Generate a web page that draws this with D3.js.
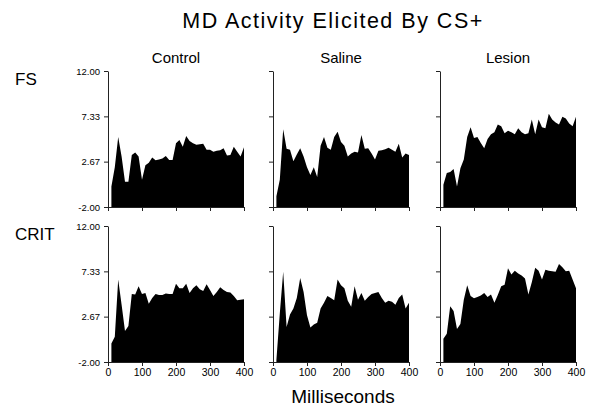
<!DOCTYPE html>
<html>
<head>
<meta charset="utf-8">
<script src="https://cdn.jsdelivr.net/npm/d3@7"></script>
<style>
  body { margin: 0; background: #fff; }
  svg { font-family: "Liberation Sans", Arial, sans-serif; }
</style>
</head>
<body>
<svg width="591" height="407"></svg>
<script>
const svg = d3.select("svg");

const groups = ["Control", "Saline", "Lesion"];
const rows = ["FS", "CRIT"];
const times = [10, 20, 30, 40, 50, 60, 70, 80, 90, 100,
               110, 120, 130, 140, 150, 160, 170, 180, 190, 200,
               210, 220, 230, 240, 250, 260, 270, 280, 290, 300,
               310, 320, 330, 340, 350, 360, 370, 380, 390, 400];
const yTicks = [-2, 2.67, 7.33, 12];
const xTicks = [0, 100, 200, 300, 400];

const fsControl = [0.1, 2.1, 5.2, 3.2, 0.6, 0.6, 3.35, 3.6, 3.2, 0.8,
                   2.3, 2.55, 3.1, 2.8, 2.9, 3.0, 3.25, 2.85, 2.85, 4.55,
                   4.9, 4.2, 5.3, 4.8, 4.55, 4.4, 4.45, 4.5, 3.9, 3.9,
                   3.7, 3.8, 3.85, 4.05, 3.3, 3.35, 4.2, 3.7, 3.2, 4.15];
const fsSaline = [-0.9, 0.8, 6.0, 4.0, 3.9, 2.7, 3.4, 4.05, 3.2, 2.1,
                  1.3, 2.1, 1.1, 4.3, 5.2, 4.1, 3.9, 5.2, 5.75, 4.7,
                  4.3, 3.2, 3.5, 3.7, 3.6, 5.4, 4.0, 4.05, 3.5, 2.9,
                  3.8, 3.85, 3.95, 4.1, 3.9, 3.7, 4.5, 3.1, 3.5, 3.35];
const fsLesion = [0.3, 1.5, 1.6, 1.9, 0.1, 2.0, 2.9, 5.2, 6.2, 5.1,
                  5.2, 4.6, 4.05, 5.0, 5.5, 5.7, 6.5, 6.3, 5.6, 5.85,
                  5.7, 5.5, 6.1, 5.7, 5.5, 5.6, 7.0, 5.5, 7.0, 6.2,
                  6.1, 7.6, 7.0, 6.7, 6.5, 7.3, 7.1, 6.6, 6.3, 7.3];
const critControl = [-0.1, 0.6, 6.5, 3.9, 1.2, 1.7, 5.0, 4.95, 5.8, 5.0,
                     5.1, 4.0, 4.6, 5.0, 4.9, 4.9, 5.05, 5.0, 5.0, 6.05,
                     5.6, 5.6, 6.05, 5.1, 5.6, 5.9, 5.5, 5.3, 6.0, 5.4,
                     4.8, 5.2, 5.7, 5.4, 5.2, 5.15, 4.8, 4.35, 4.4, 4.45];
const critSaline = [-1.8, 3.0, 7.3, 1.6, 2.9, 3.5, 4.6, 6.65, 5.2, 2.8,
                    1.55, 1.85, 2.05, 3.5, 4.1, 4.8, 4.6, 4.35, 6.5, 5.9,
                    5.6, 4.3, 3.7, 5.8, 4.4, 5.1, 4.3, 4.7, 5.0, 5.1,
                    5.2, 4.6, 4.1, 4.3, 4.2, 3.9, 4.6, 4.95, 3.5, 4.1];
const critLesion = [0.4, 0.9, 3.75, 3.25, 1.4, 1.9, 4.4, 5.9, 4.8, 4.55,
                    4.7, 4.85, 5.1, 4.7, 4.95, 4.1, 4.9, 5.8, 5.95, 7.65,
                    7.0, 7.4, 7.1, 6.9, 6.6, 4.95, 6.2, 7.7, 7.4, 6.5,
                    7.5, 7.4, 7.35, 7.3, 8.1, 7.75, 7.35, 7.4, 6.5, 5.6];

const series = [
  [fsControl, fsSaline, fsLesion],
  [critControl, critSaline, critLesion]
];

// panel layout
const colLeft = [108, 273, 440];
const rowTop = [71, 226];
const pw = 136, ph = 136;

svg.append("text")
  .attr("x", 333).attr("y", 28)
  .attr("text-anchor", "middle")
  .attr("font-size", 21.5)
  .attr("letter-spacing", 1.5)
  .text("MD Activity Elicited By CS+");

groups.forEach((g, c) => {
  svg.append("text")
    .attr("x", colLeft[c] + pw / 2).attr("y", 63)
    .attr("text-anchor", "middle")
    .attr("font-size", 15)
    .text(g);
});

rows.forEach((r, ri) => {
  svg.append("text")
    .attr("x", 15).attr("y", rowTop[ri] + 14)
    .attr("font-size", 17)
    .text(r);
});

svg.append("text")
  .attr("x", 343).attr("y", 403)
  .attr("text-anchor", "middle")
  .attr("font-size", 19)
  .text("Milliseconds");

rows.forEach((r, ri) => {
  groups.forEach((g, c) => {
    const x = d3.scaleLinear().domain([0, 400]).range([colLeft[c], colLeft[c] + pw]);
    const y = d3.scaleLinear().domain([-2, 12]).range([rowTop[ri] + ph, rowTop[ri]]);
    const vals = series[ri][c];

    const area = d3.area()
      .x((d, i) => x(times[i]))
      .y0(y(-2))
      .y1(d => y(d));

    svg.append("path")
      .datum(vals)
      .attr("fill", "#000")
      .attr("d", area);

    const ya = svg.append("g")
      .attr("transform", `translate(${colLeft[c]},0)`)
      .call(d3.axisLeft(y).tickValues(yTicks).tickSize(4).tickSizeOuter(0)
        .tickFormat(c === 0 ? (d => d.toFixed(2)) : () => ""));
    ya.selectAll("text").attr("font-size", 9.5).attr("fill", "#000").attr("dx", "-1");

    const xa = svg.append("g")
      .attr("transform", `translate(0,${rowTop[ri] + ph})`)
      .call(d3.axisBottom(x).tickValues(xTicks).tickSize(4).tickSizeOuter(0)
        .tickFormat(ri === 1 ? d3.format("d") : () => ""));
    xa.selectAll("text").attr("font-size", 10.5).attr("fill", "#000");

    svg.selectAll(".domain, .tick line").attr("stroke", "#222");
  });
});
</script>
</body>
</html>
